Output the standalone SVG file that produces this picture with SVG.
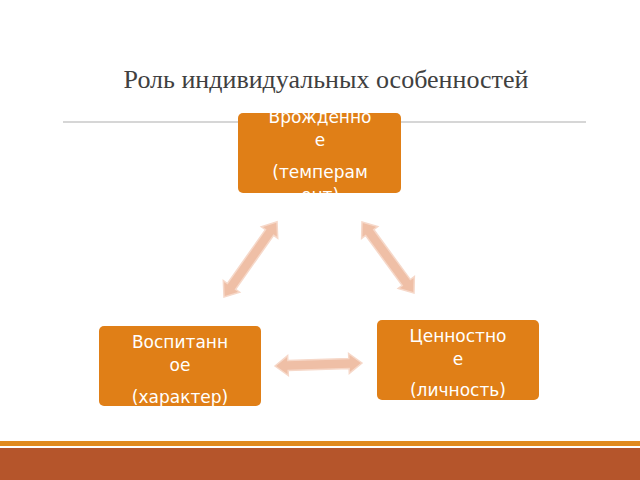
<svg xmlns="http://www.w3.org/2000/svg" width="640" height="480" viewBox="0 0 640 480">
<style>
.box{fill:#e07f17;}
.t{font-family:"DejaVu Sans",sans-serif;font-size:17px;fill:#fff;text-anchor:middle;}
.arr{fill:#efbfa6;stroke:#f6d8c9;stroke-width:1.5;}
</style>
<rect width="640" height="480" fill="#fff"/>
<text x="326" y="88" font-family="Liberation Serif,serif" font-size="26" fill="#404040" text-anchor="middle">Роль индивидуальных особенностей</text>
<line x1="63" y1="122" x2="586" y2="122" stroke="#c8c8c8" stroke-width="1.5"/>
<g id="node-top"><rect class="box" x="238" y="113" width="163" height="80" rx="5"/>
<text class="t" x="320" y="123">Врожденно</text><text class="t" x="320" y="146">е</text><text class="t" x="320" y="178">(темперам</text><text class="t" x="320" y="201">ент)</text></g>
<g id="node-left"><rect class="box" x="99" y="326" width="162" height="80" rx="5"/>
<text class="t" x="180" y="348">Воспитанн</text><text class="t" x="180" y="371">ое</text><text class="t" x="180" y="403">(характер)</text></g>
<g id="node-right"><rect class="box" x="377" y="320" width="162" height="80" rx="5"/>
<text class="t" x="458" y="342">Ценностно</text><text class="t" x="458" y="365">е</text><text class="t" x="458" y="396">(личность)</text></g>
<g id="connectors">
<polygon class="arr" transform="translate(224,297) rotate(-54.8)" points="0,0 13,-10 13,-5 79,-5 79,-10 92,0 79,10 79,5 13,5 13,10"/>
<polygon class="arr" transform="translate(362,222) rotate(53.8)" points="0,0 13,-10 13,-5 75,-5 75,-10 88,0 75,10 75,5 13,5 13,10"/>
<polygon class="arr" transform="translate(275,366) rotate(-2)" points="0,0 13,-10 13,-5 74,-5 74,-10 87,0 74,10 74,5 13,5 13,10"/>
</g>
<rect x="0" y="441" width="640" height="5" fill="#e08a1e"/>
<rect x="0" y="448" width="640" height="32" fill="#b5552b"/>
</svg>
